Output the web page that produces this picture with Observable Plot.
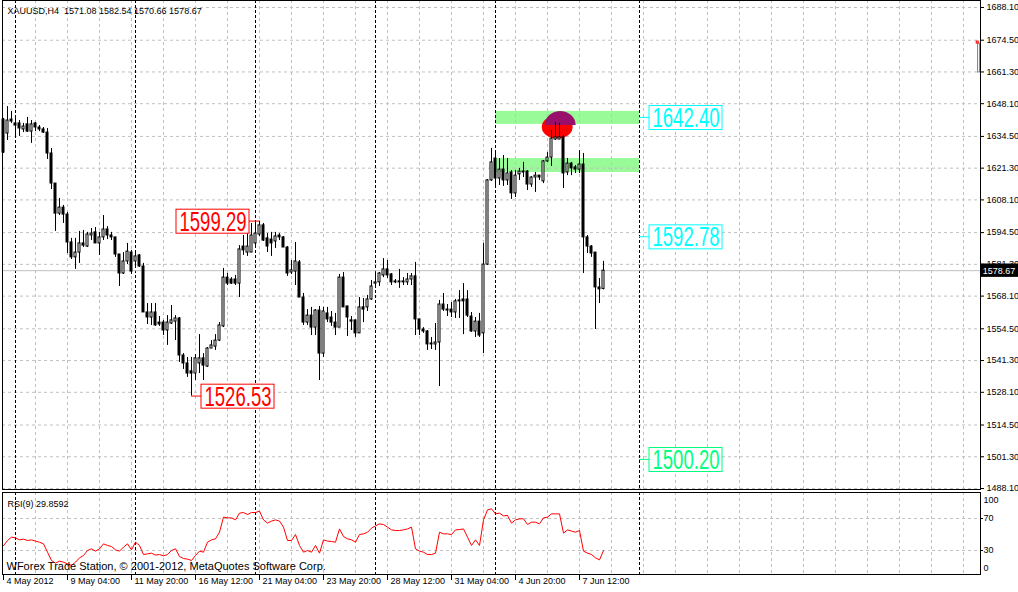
<!DOCTYPE html>
<html><head><meta charset="utf-8">
<script src="https://cdn.jsdelivr.net/npm/d3@7"></script>
<script src="https://cdn.jsdelivr.net/npm/@observablehq/plot@0.6"></script>
<style>
body{margin:0;background:#fff;}
#chart{position:relative;width:1018px;height:592px;overflow:hidden;background:#fff;}
#chart svg{display:block;}
#chart text{white-space:pre;}
</style></head><body><div id="chart"></div>
<script>
// ---------- DATA (XAUUSD H4, bar index 0 = 4 May 2012 12:00) ----------
const opens = [1641.5,1635.7,1641.5,1639.9,1639.9,1637.4,1639.5,1636.5,1639.9,1638.2,
1637.4,1636.1,1627.4,1614.9,1602.4,1604.9,1602.0,1590.4,1584.2,1586.2,
1590.0,1588.7,1593.3,1594.6,1590.0,1592.5,1595.8,1593.3,1592.5,1585.4,
1577.5,1582.5,1586.2,1582.5,1585.0,1580.4,1561.3,1559.2,1561.3,1557.1,
1557.1,1553.8,1556.7,1557.5,1558.8,1543.4,1540.1,1536.8,1535.9,1540.1,
1542.2,1538.8,1546.3,1547.1,1549.6,1555.5,1575.8,1575.0,1575.0,1573.3,
1588.7,1586.2,1586.2,1590.0,1593.7,1597.5,1592.1,1591.6,1590.8,1593.3,
1592.5,1588.3,1577.9,1578.3,1582.1,1567.5,1557.1,1560.0,1555.0,1562.1,
1544.2,1560.9,1559.2,1557.1,1555.0,1575.8,1563.8,1558.0,1558.0,1552.6,
1563.4,1563.4,1566.7,1573.3,1573.8,1576.7,1579.2,1577.1,1574.2,1574.2,
1574.2,1573.8,1575.0,1576.3,1558.4,1554.2,1553.4,1548.4,1548.0,1548.8,
1564.6,1562.5,1562.5,1561.3,1566.3,1566.7,1566.7,1559.6,1553.4,1557.5,
1552.6,1581.2,1616.2,1625.3,1617.0,1620.7,1616.2,1619.5,1610.8,1618.7,
1619.9,1619.9,1614.5,1617.4,1618.2,1615.8,1624.1,1625.7,1633.2,1633.2,
1634.1,1619.5,1623.2,1621.6,1620.7,1622.8,1592.5,1588.7,1586.2,1571.7,
1571.08];
const highs = [1642.0,1646.9,1644.9,1642.4,1641.1,1639.9,1642.4,1641.1,1640.3,1639.0,
1638.2,1637.8,1629.5,1614.9,1608.7,1605.8,1602.9,1592.1,1592.1,1595.0,
1595.4,1594.6,1596.2,1596.6,1594.6,1601.6,1597.0,1594.6,1592.5,1585.4,
1586.2,1590.0,1587.1,1585.8,1585.4,1581.7,1565.0,1565.0,1565.0,1559.6,
1558.0,1560.0,1564.2,1560.0,1559.2,1544.2,1542.6,1542.6,1543.8,1552.1,
1544.2,1546.7,1549.6,1552.1,1557.1,1579.6,1577.5,1575.8,1576.7,1589.1,
1593.3,1594.1,1598.3,1598.7,1599.29,1598.3,1594.1,1594.6,1594.6,1594.1,
1592.9,1588.7,1582.9,1590.4,1582.9,1569.2,1562.5,1563.4,1562.5,1563.8,
1563.4,1563.4,1561.7,1560.9,1577.1,1577.9,1563.8,1559.6,1558.0,1567.5,
1567.1,1568.4,1574.6,1577.9,1577.9,1583.7,1582.9,1577.5,1575.0,1579.2,
1575.8,1577.5,1577.5,1582.1,1558.4,1555.0,1553.8,1550.9,1556.7,1566.3,
1569.2,1564.6,1565.4,1566.7,1570.4,1573.3,1570.4,1561.3,1559.2,1560.9,
1590.0,1616.6,1629.5,1627.8,1625.3,1626.6,1625.3,1620.3,1620.3,1621.2,
1623.7,1620.3,1617.8,1619.5,1618.2,1624.5,1627.8,1637.0,1640.3,1639.9,
1634.9,1625.3,1623.7,1622.4,1628.6,1627.4,1593.3,1589.1,1586.2,1575.4,
1582.54];
const lows = [1627.4,1632.8,1639.9,1634.5,1634.5,1636.1,1636.1,1631.6,1636.5,1636.5,
1635.7,1624.9,1612.4,1595.0,1601.6,1598.3,1585.8,1583.3,1579.2,1581.7,
1588.3,1588.3,1591.2,1590.0,1585.0,1591.2,1591.6,1591.2,1584.2,1572.1,
1577.1,1581.2,1577.1,1580.4,1580.0,1561.3,1556.3,1555.9,1555.5,1555.5,
1551.7,1547.6,1556.3,1549.6,1540.5,1537.6,1534.3,1526.53,1533.0,1535.9,
1533.0,1538.4,1546.3,1545.5,1549.2,1555.0,1572.5,1572.9,1572.5,1567.5,
1585.0,1584.6,1586.2,1589.1,1592.9,1590.8,1586.2,1584.6,1587.9,1591.2,
1588.3,1576.3,1577.1,1572.5,1567.5,1555.9,1555.9,1551.7,1551.7,1533.0,
1542.6,1557.1,1555.5,1551.7,1555.0,1563.4,1551.3,1553.8,1550.9,1552.6,
1557.1,1561.7,1566.3,1572.1,1572.1,1575.8,1575.4,1572.5,1573.3,1571.3,
1572.5,1572.5,1572.5,1551.7,1551.7,1552.6,1545.5,1545.9,1545.5,1530.5,
1561.7,1559.6,1559.2,1558.8,1558.8,1552.1,1559.2,1553.0,1550.9,1550.9,
1544.2,1580.8,1615.8,1614.1,1614.1,1613.7,1614.1,1608.3,1609.1,1616.2,
1617.4,1612.0,1613.3,1611.2,1616.2,1614.9,1623.7,1622.0,1632.8,1633.2,
1612.8,1618.2,1618.2,1619.1,1619.1,1577.5,1585.8,1584.2,1554.2,1565.0,
1570.66];
const closes = [1627.8,1641.1,1640.7,1639.0,1637.8,1638.6,1636.5,1639.5,1638.2,1637.4,
1636.1,1627.4,1614.9,1602.4,1604.9,1602.0,1590.4,1584.2,1586.2,1590.0,
1589.1,1593.7,1594.1,1590.0,1592.5,1595.8,1593.3,1592.5,1585.4,1577.5,
1582.5,1586.6,1578.3,1584.6,1580.4,1561.3,1559.2,1561.3,1555.9,1556.3,
1553.8,1557.1,1558.0,1558.8,1543.4,1540.1,1535.9,1535.9,1542.2,1542.2,
1539.2,1546.3,1547.6,1549.6,1555.9,1575.8,1573.3,1573.3,1573.3,1587.5,
1587.1,1588.7,1593.3,1594.1,1597.5,1591.2,1588.7,1590.0,1592.9,1592.5,
1588.3,1577.5,1578.8,1582.5,1567.5,1557.1,1560.0,1555.0,1562.1,1544.2,
1561.7,1558.4,1557.1,1555.0,1575.8,1563.4,1559.2,1557.5,1552.6,1563.4,
1562.5,1566.7,1572.1,1573.8,1577.5,1579.2,1576.7,1573.8,1573.8,1573.8,
1573.8,1575.0,1576.3,1558.4,1554.2,1553.4,1548.0,1548.0,1548.8,1564.6,
1562.5,1562.1,1561.3,1565.9,1565.9,1565.9,1560.0,1553.4,1557.5,1551.7,
1581.2,1616.2,1623.7,1617.0,1620.7,1616.2,1619.1,1610.8,1618.2,1619.9,
1619.5,1614.5,1617.4,1618.2,1617.4,1624.1,1625.7,1633.6,1634.1,1634.1,
1619.1,1623.2,1621.2,1620.7,1622.8,1592.5,1588.7,1585.8,1571.7,1570.9,
1578.67];
const rsi = [36.0,42.5,46.7,45.8,43.3,44.2,42.5,43.3,41.7,40.4,
38.3,27.9,17.5,14.2,16.7,15.4,13.3,11.3,15.4,20.8,
23.8,30.0,32.1,29.2,32.0,38.3,36.3,35.0,30.8,29.2,
34.2,38.3,30.8,40.4,36.3,25.0,25.8,26.7,24.2,25.0,
23.3,25.0,30.0,32.1,22.5,20.0,19.2,17.5,23.8,29.2,
27.9,40.4,43.3,44.6,52.9,71.7,70.8,70.8,68.3,76.7,
77.5,75.0,77.5,77.5,79.2,68.3,64.2,66.7,68.3,66.7,
59.2,42.5,42.5,50.0,36.3,27.9,30.0,27.9,36.3,26.7,
43.3,41.7,41.2,40.4,57.0,47.5,44.6,43.3,40.4,50.0,
50.8,52.9,57.9,60.8,63.3,62.5,59.2,55.8,55.0,55.0,
55.8,57.0,59.2,32.1,29.2,27.9,25.0,25.0,26.7,52.9,
50.8,50.8,50.0,55.8,56.2,57.0,46.7,36.3,43.3,36.3,
68.3,80.8,82.1,75.8,76.7,73.3,73.8,64.2,68.3,69.6,
69.6,62.5,65.4,65.4,63.3,70.8,71.7,75.8,75.8,75.8,
51.7,55.8,54.2,52.9,55.0,29.2,26.7,25.0,20.8,18.3,
29.8592];

const priceTicks = [1688.10,1674.50,1661.30,1648.10,1634.50,1621.30,1608.10,1594.50,
  1581.30,1568.10,1554.50,1541.30,1528.10,1514.50,1501.30,1488.10];
const timeBars = [0,16,32,48,64,80,96,112,128,144];
const timeLabels = ["4 May 2012","9 May 04:00","11 May 20:00","16 May 12:00","21 May 04:00",
  "23 May 20:00","28 May 12:00","31 May 04:00","4 Jun 20:00","7 Jun 12:00"];
const separatorBars = [3,33,63,93,123,159];
const rsiLevels = [70,30];

// annotations
const noteTexts = ["1599.29","1526.53","1642.40","1592.78","1500.20"];
const noteValues = [1599.29,1526.53,1642.40,1592.78,1500.20];
const noteBars = [64,47,159,159,159];
const noteSides = ["left","right","right","right","right"];
const noteColors = ["#ff0000","#ff0000","#00ffff","#00ffff","#00ff7f"];
const zoneLow = [1639.5,1619.5];
const zoneHigh = [1644.9,1625.3];
const zoneStart = 123, zoneEnd = 159;
// small marker at the right edge (range 1661.1 .. 1673.1)
const edgeLow = 1661.1, edgeHigh = 1673.1;

// ---------- BUILD ----------
const bars = opens.map((o,i)=>({i, open:o, high:highs[i], low:lows[i], close:closes[i]}));
const last = bars[bars.length-1];
const pxPerPrice = (488-7)/(1688.1-1488.1);
const pxPerBar = 4;
const P = px => px/pxPerPrice;   // pixel height -> price units
const B = px => px/pxPerBar;     // pixel width -> bar units

const notes = noteTexts.map((t,k)=>{
  const bar = noteBars[k], v = noteValues[k], left = noteSides[k]==="left";
  const gap = B(10), w = B(73);
  const bx1 = left ? bar-gap-w : bar+gap, bx2 = bx1+w;
  return {t, v, bar, color:noteColors[k], cx1: bar, cx2: left ? bar-gap : bar+gap,
          bx1, bx2, y1: v-P(12)-P(0.6), y2: v+P(12)-P(0.6)};
});
const zones = zoneLow.map((lo,k)=>({lo, hi:zoneHigh[k]}));

function ellipse(cx, cy, rx, ry, upperOnly){
  return d3.range(0, 1.0001, 0.02).map(s=>{
    const u = -1 + 2*s; const h = ry*Math.sqrt(Math.max(0,1-u*u));
    return {x: cx+u*rx, y1: upperOnly ? cy : cy-h, y2: cy+h};
  });
}
const redBlob = ellipse(138.55, 1638.2, B(15.5), P(11.5), false);
const purpleBlob = ellipse(139.3, 1639.0, B(15.5), P(14), true);

const xScale = {domain:[0,244], range:[3,979]};
const font = "'Liberation Sans', Arial, sans-serif";
const gridColor = "#c0c0c0";
const gridBars = d3.range(8, 244, 8);

const titleStr = `XAUUSD,H4  ${last.open.toFixed(2)} ${last.high.toFixed(2)} ${last.low.toFixed(2)} ${last.close.toFixed(2)}`;

const main = Plot.plot({
  width:1018, height:490,
  marginLeft:2, marginRight:38, marginTop:0, marginBottom:1,
  x:{...xScale, axis:null},
  y:{domain:[1488.1,1688.1], range:[488,7]},
  style:{fontFamily:font, fontSize:"9px", overflow:"visible", background:"transparent"},
  marks:[
    Plot.rect(zones, {x1:zoneStart, x2:zoneEnd, y1:"lo", y2:"hi", fill:"#98fb98"}),
    Plot.ruleX(gridBars, {x:d=>d, stroke:gridColor, strokeDasharray:"3,3"}),
    Plot.ruleY(priceTicks, {y:d=>d, stroke:gridColor, strokeDasharray:"3,3"}),
    Plot.ruleX(separatorBars, {x:d=>d, stroke:"#000", strokeDasharray:"3,2"}),
    Plot.ruleY([last.close], {y:d=>d, stroke:gridColor}),
    Plot.areaY(redBlob, {x:"x", y1:"y1", y2:"y2", fill:"#ff0000"}),
    Plot.areaY(purpleBlob, {x:"x", y1:"y1", y2:"y2", fill:"#98106c"}),
    Plot.ruleX(bars, {x:"i", y1:"low", y2:"high", stroke:"#000"}),
    Plot.rect(bars.filter(d=>d.close>=d.open), {x1:d=>d.i-0.25, x2:d=>d.i+0.25, y1:"open", y2:"close", fill:"#fff", stroke:"#000"}),
    Plot.rect(bars.filter(d=>d.close<d.open), {x1:d=>d.i-0.25, x2:d=>d.i+0.25, y1:"open", y2:"close", fill:"#000", stroke:"#000"}),
    Plot.ruleY(notes, {y:"v", x1:"cx1", x2:"cx2", stroke:d=>d.color}),
    Plot.rect(notes, {x1:"bx1", x2:"bx2", y1:"y1", y2:"y2", fill:"#fff", stroke:d=>d.color}),
    Plot.text(notes, {x:d=>(d.bx1+d.bx2)/2, y:"v", text:"t", fill:d=>d.color, fontSize:27, dy:1}),
    Plot.rect([{lo:edgeLow, hi:edgeHigh}], {x1:243.65, x2:244.15, y1:"lo", y2:"hi", fill:"#fff", stroke:"#808080"}),
    Plot.rect([{lo:edgeHigh, hi:edgeHigh+P(2)}], {x1:243.3, x2:243.8, y1:"lo", y2:"hi", fill:"none", stroke:"#ff0000"}),
    Plot.axisY({anchor:"right", ticks:priceTicks, tickSize:3, tickPadding:3, tickFormat:d=>d.toFixed(2), label:null}),
    Plot.rect([last.close], {x1:244.3, x2:254, y1:d=>d-P(6.7), y2:d=>d+P(6.7), fill:"#000"}),
    Plot.text([last.close], {x:244.3, y:d=>d, text:d=>d.toFixed(2), fill:"#fff", textAnchor:"start", dx:2}),
    Plot.text([titleStr], {frameAnchor:"top-left", dx:5, dy:7, fill:"#000"}),
    Plot.frame({stroke:"#000"})
  ]
});

const rsiPlot = Plot.plot({
  width:1018, height:102,
  marginLeft:2, marginRight:38, marginTop:2, marginBottom:18,
  x:{...xScale},
  y:{domain:[0,100], range:[84,4]},
  style:{fontFamily:font, fontSize:"9px", overflow:"visible", background:"transparent"},
  marks:[
    Plot.ruleX(gridBars, {x:d=>d, stroke:gridColor, strokeDasharray:"3,3"}),
    Plot.ruleY(rsiLevels, {y:d=>d, stroke:gridColor, strokeDasharray:"3,3"}),
    Plot.ruleX(separatorBars, {x:d=>d, stroke:"#000", strokeDasharray:"3,2"}),
    Plot.line(rsi, {x:(d,i)=>i, y:d=>d, stroke:"#ff0000", strokeWidth:1}),
    Plot.axisY({anchor:"right", ticks:rsiLevels, tickSize:2, tickPadding:1, label:null}),
    Plot.text([100], {y:d=>d, text:d=>String(d), frameAnchor:"right", textAnchor:"start", dx:3, dy:6}),
    Plot.text([0], {y:d=>d, text:d=>String(d), frameAnchor:"right", textAnchor:"start", dx:3, dy:-6}),
    Plot.axisX({ticks:timeBars, tickSize:6, tickFormat:()=>"", label:null}),
    Plot.text(timeBars, {x:d=>d, text:(d,i)=>timeLabels[i], frameAnchor:"bottom", textAnchor:"start", lineAnchor:"top", dx:3, dy:3}),
    Plot.text([`RSI(9) ${rsi[rsi.length-1].toFixed(4)}`], {frameAnchor:"top-left", dx:5, dy:8}),
    Plot.text(["WForex Trade Station, © 2001-2012, MetaQuotes Software Corp."], {frameAnchor:"top-left", dx:4, dy:70, fontSize:11}),
    Plot.frame({stroke:"#000"})
  ]
});

const chart = document.getElementById("chart");
chart.appendChild(main);
chart.appendChild(rsiPlot);
for (const t of main.querySelectorAll("text")) {
  if (noteTexts.includes(t.textContent)) {
    t.setAttribute("textLength", 67);
    t.setAttribute("lengthAdjust", "spacingAndGlyphs");
  }
}
</script></body></html>
